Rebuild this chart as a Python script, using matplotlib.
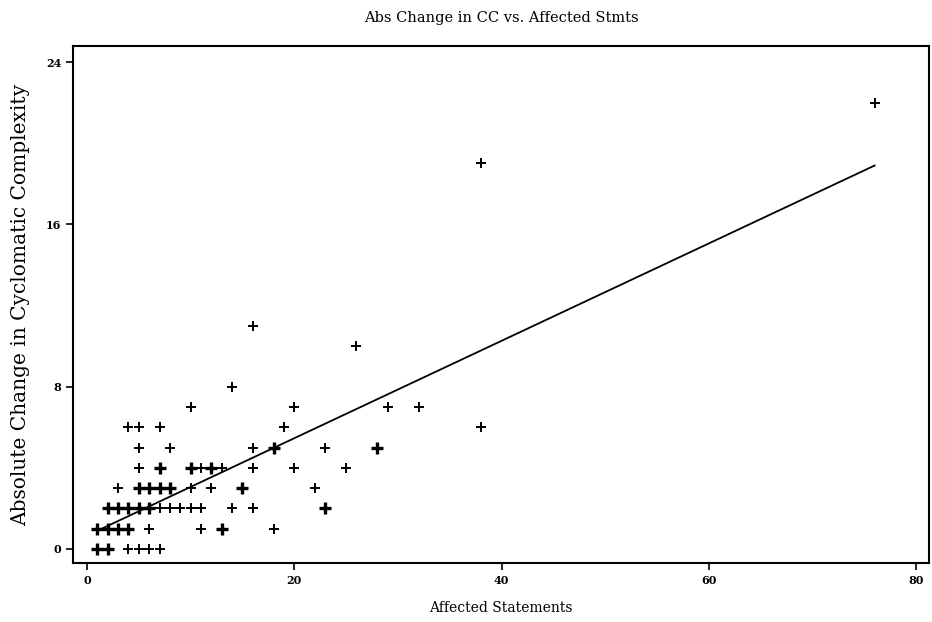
import numpy as np
import matplotlib
matplotlib.use("Agg")
import matplotlib.pyplot as plt

#   Точки: (affected statements, abs change in CC)
x_pts = [1, 2, 4, 5, 6, 7,
         1, 2, 3, 4, 6, 11, 13, 18,
         2, 3, 4, 5, 6, 7, 8, 9, 10, 11, 14, 16, 23,
         3, 5, 6, 7, 8, 10, 12, 15, 22,
         5, 7, 10, 11, 12, 13, 16, 20, 25,
         5, 8, 16, 18, 23, 28,
         4, 5, 7, 19, 38,
         10, 20, 29, 32,
         14, 26, 16, 38, 76]
y_pts = [0, 0, 0, 0, 0, 0,
         1, 1, 1, 1, 1, 1, 1, 1,
         2, 2, 2, 2, 2, 2, 2, 2, 2, 2, 2, 2, 2,
         3, 3, 3, 3, 3, 3, 3, 3, 3,
         4, 4, 4, 4, 4, 4, 4, 4, 4,
         5, 5, 5, 5, 5, 5,
         6, 6, 6, 6, 6,
         7, 7, 7, 7,
         8, 10, 11, 19, 22]
# повторяющиеся (жирные) точки
dup_x = [1, 2, 1, 2, 3, 4, 13, 2, 3, 4, 5, 6, 23, 5, 6, 7, 8, 15, 7, 10, 12, 18, 28]
dup_y = [0, 0, 1, 1, 1, 1, 1, 2, 2, 2, 2, 2, 2, 3, 3, 3, 3, 3, 4, 4, 4, 5, 5]

#   Линия регрессии
fit_x = [1.3, 76]
fit_y = [0.97, 18.9]

x_ticks = [0, 20, 40, 60, 80]
y_ticks = [0, 8, 16, 24]

fig = plt.figure(figsize=(9.32, 6.22), dpi=100)
ax = fig.add_axes([0.0783, 0.0949, 0.9185, 0.8311])

ax.plot(x_pts, y_pts, '+', color='black', markersize=7.5, markeredgewidth=1.4)
ax.plot(dup_x, dup_y, '+', color='black', markersize=8, markeredgewidth=2.4)
ax.plot(fit_x, fit_y, color='black', linewidth=1.3)

ax.set_xlim(-1.35, 81.25)
ax.set_ylim(-0.69, 24.79)
ax.set_xticks(x_ticks)
ax.set_yticks(y_ticks)
ax.tick_params(direction='out', length=5, width=1.2, labelsize=8)
for lab in ax.get_xticklabels() + ax.get_yticklabels():
    lab.set_family('DejaVu Serif')
    lab.set_fontweight('bold')
for s in ax.spines.values():
    s.set_linewidth(1.5)

ax.set_title("Abs Change in CC vs. Affected Stmts", family='DejaVu Serif', fontsize=10.5, pad=17)
ax.set_xlabel("Affected Statements", family='DejaVu Serif', fontsize=10, labelpad=11)
ax.set_ylabel("Absolute Change in Cyclomatic Complexity", family='DejaVu Serif', fontsize=14.5, labelpad=11)

fig.savefig("out.png", dpi=100)
